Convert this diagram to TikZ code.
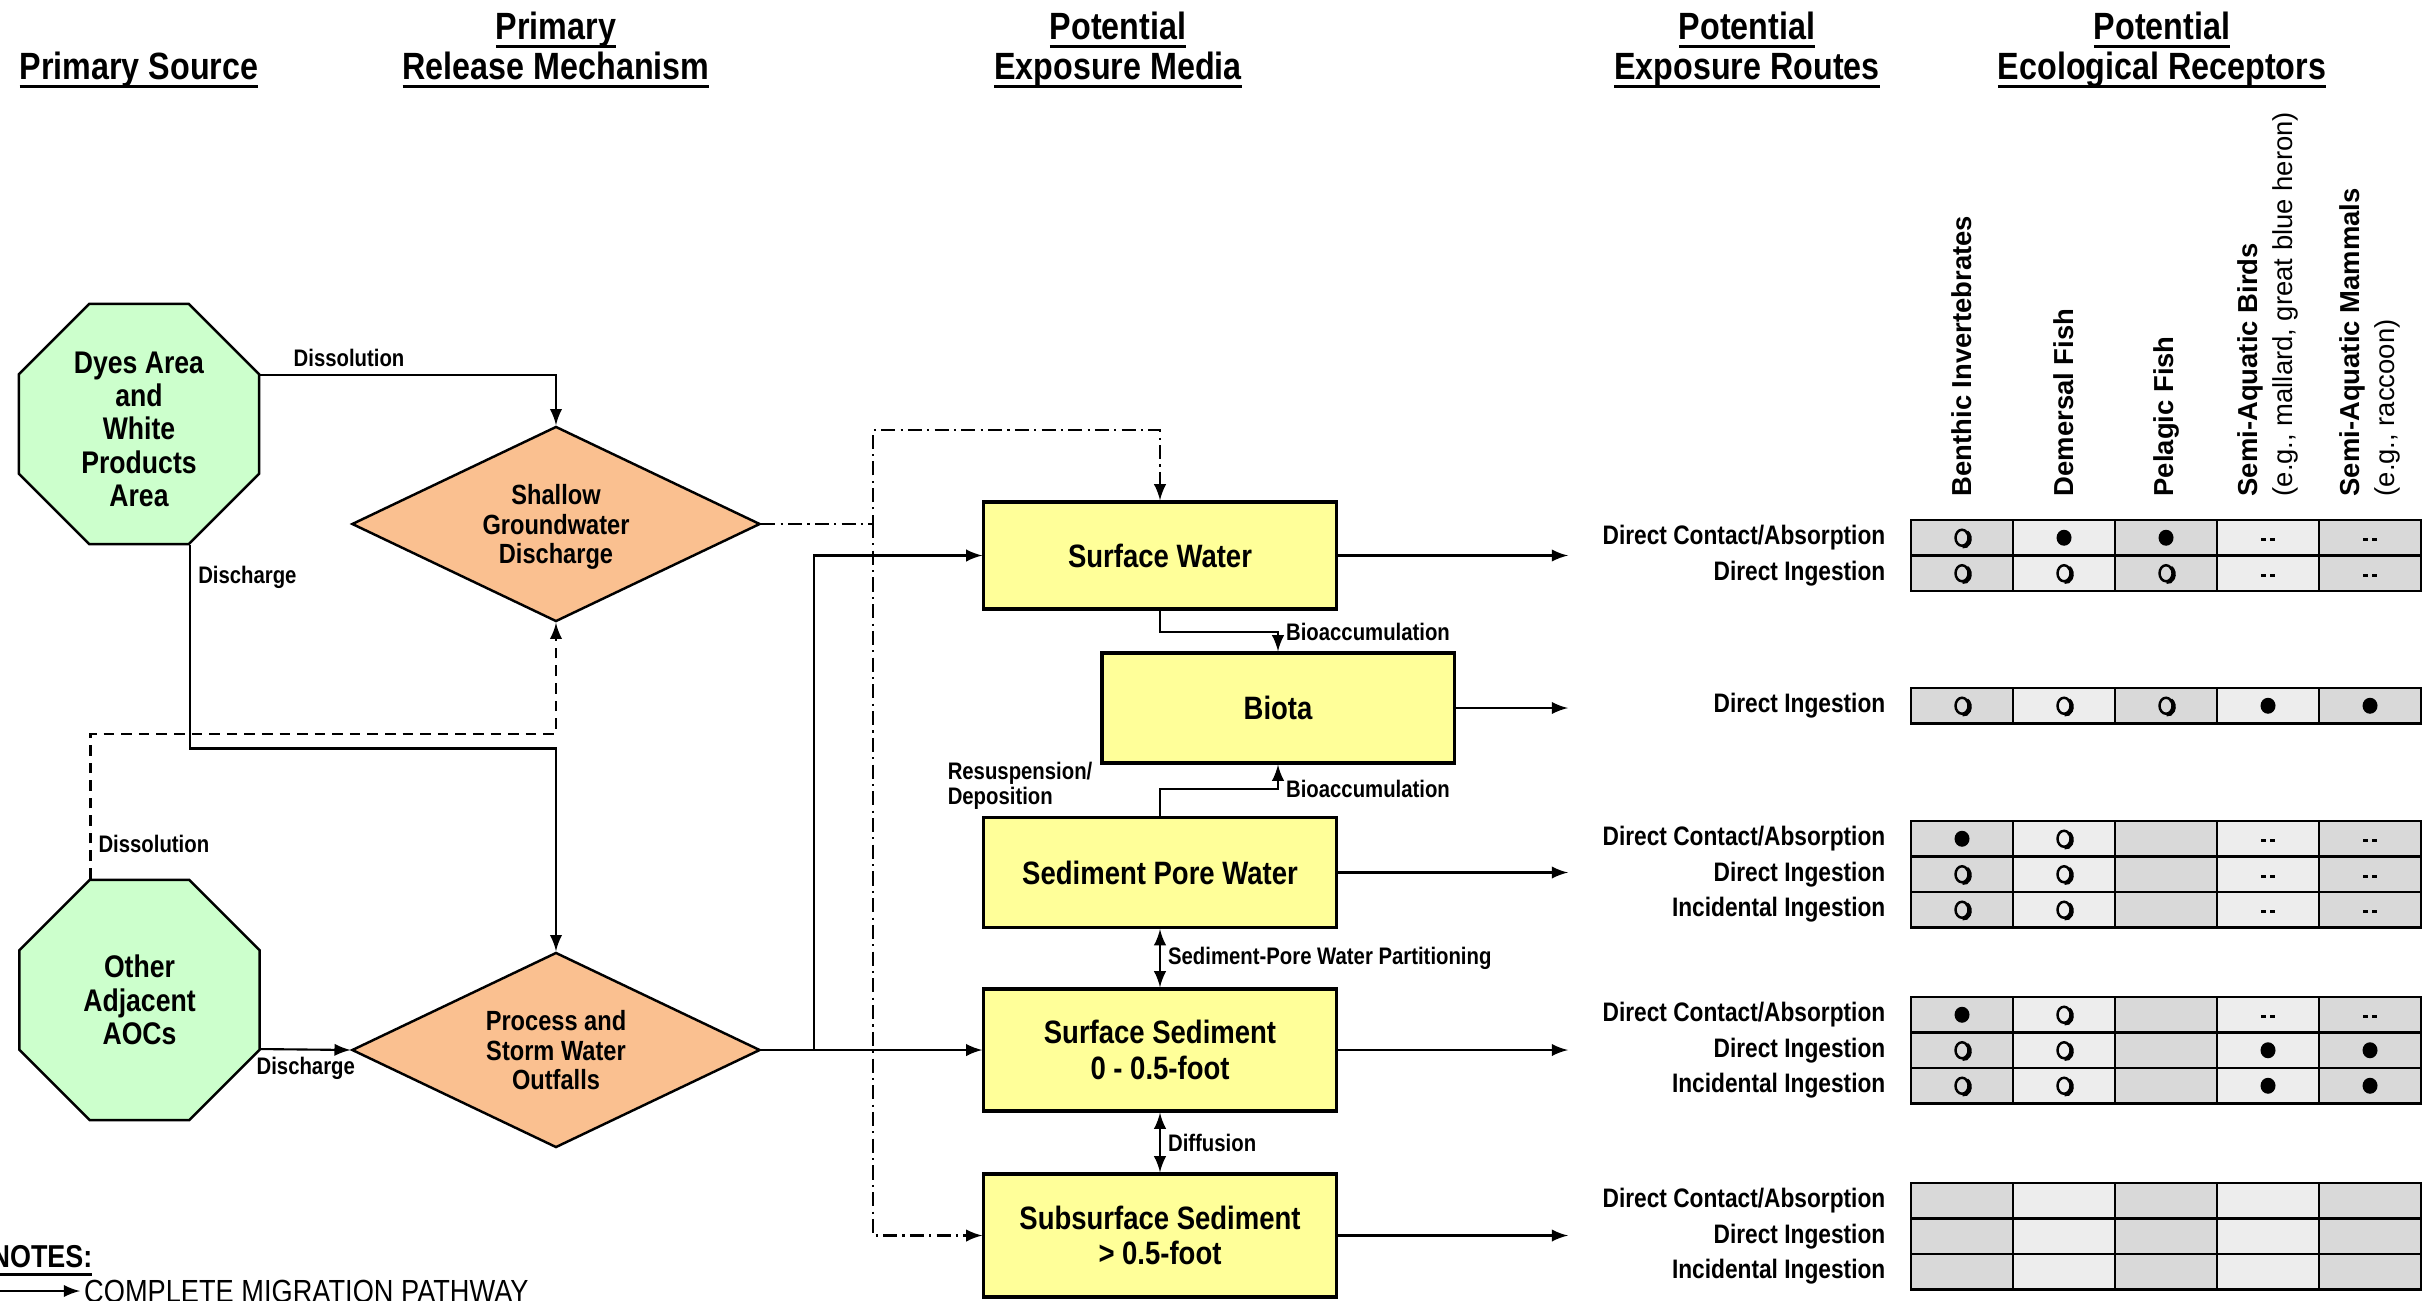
\documentclass[tikz, border = 0pt]{standalone}
\usepackage{fontspec}
\setmainfont{Liberation Sans}
\newfontfamily\narrowsf{Liberation Sans}[FakeStretch = 0.85]
\usetikzlibrary{shapes.geometric}

\definecolor{srcGreen}{HTML}{CCFFCC}
\definecolor{relOrange}{HTML}{FAC090}
\definecolor{mediaYellow}{HTML}{FFFF99}
\definecolor{cellDark}{HTML}{D9D9D9}
\definecolor{cellLight}{HTML}{EDEDED}

% thick underline for the headings
\newcommand\hdrline[1]{\setbox0\hbox{#1\vphantom{y}}%
  \rlap{\smash{\vrule width \wd0 height -1.6pt depth 2.5pt}}\box0}

% marks in the receptor table
\newcommand\mkF[1]{\fill (#1) ellipse (7.5 and 8);}
\newcommand\mkO[1]{
  \draw[line width = 0.7pt] (#1) ellipse (6.5 and 8);
  \draw[line width = 1pt] (#1) ++(4.75, -5.9)
    arc[start angle = -60, end angle = 100, x radius = 6.5, y radius = 8];}
\newcommand\mkD[1]{
  \draw[line width = 0.9pt] (#1) ++(-7, 2) -- ++(5, 0) ++(4, 0) -- ++(5, 0);}
\newcommand\mkE[1]{}

\tikzset{
  source/.style = {regular polygon, regular polygon sides = 8, draw, fill = srcGreen,
    minimum size = 2.6cm, inner sep = 0pt, align = center, line width = 0.7pt,
    text depth = 0pt, font = \narrowsf\bfseries\fontsize{8.9}{9.5}\selectfont},
  release/.style = {diamond, aspect = 2, draw, fill = relOrange, minimum width = 4.08cm,
    minimum height = 1.95cm, inner sep = 0pt, align = center, line width = 0.7pt,
    text depth = 0pt, font = \narrowsf\bfseries\fontsize{7.9}{8.4}\selectfont},
  media/.style = {rectangle, draw, fill = mediaYellow, minimum width = 3.52cm,
    minimum height = 1.1cm, align = center, line width = 0.9pt,
    font = \narrowsf\bfseries\fontsize{9.2}{10}\selectfont},
  header/.style = {anchor = south, align = center, inner sep = 0pt,
    font = \narrowsf\bfseries\fontsize{10.8}{11.4}\selectfont},
  note/.style = {font = \narrowsf\bfseries\fontsize{6.8}{7.2}\selectfont, inner sep = 2pt},
  exposure/.style = {anchor = east, inner sep = 0pt,
    font = \narrowsf\bfseries\fontsize{7.6}{8}\selectfont},
  receptor/.style = {rotate = 90, anchor = west, align = left, inner sep = 0pt,
    font = \bfseries\fontsize{7.8}{10}\selectfont},
  cell/.style = {draw, line width = 0.75pt, minimum width = 1.02cm,
    minimum height = 0.355cm, inner sep = 0pt},
  route/.style = {-latex, line width = 0.6pt},
  inferred/.style = {route, dash pattern = on 3pt off 2pt},
  minor/.style = {route, dash pattern = on 4pt off 1.5pt on 0.6pt off 1.5pt}
}

\begin{document}
\begin{tikzpicture}[x = 0.01cm, y = -0.01cm]
  \useasboundingbox (0, 0) rectangle (2422, 1300);

  % column headings
  \node[header] (hSource) at (139, 88) {\hdrline{Primary Source}};
  \node[header] (hRelease) at (556, 88) {\hdrline{Primary}\\\hdrline{Release Mechanism}};
  \node[header] (hMedia) at (1118, 88) {\hdrline{Potential}\\\hdrline{Exposure Media}};
  \node[header] (hRoutes) at (1747, 88) {\hdrline{Potential}\\\hdrline{Exposure Routes}};
  \node[header] (hReceptors) at (2162, 88) {\hdrline{Potential}\\\hdrline{Ecological Receptors}};

  % sources and release mechanisms
  \node[source] (dyes) at (139, 424) {\rule{0pt}{9pt}Dyes Area\\and\\White\\Products\\Area};
  \node[source] (other) at (139.5, 1000) {Other\\Adjacent\\AOCs};
  \node[release] (shallow) at (556, 524) {Shallow\\Groundwater\\Discharge};
  \node[release] (outfall) at (556, 1050) {Process and\\Storm Water\\Outfalls};

  % exposure media
  \node[media, minimum height = 1.07cm] (water) at (1160, 555.5) {Surface Water};
  \node[media] (biota) at (1278, 708) {Biota};
  \node[media] (pore) at (1160, 872.5) {Sediment Pore Water};
  \node[media, minimum height = 1.22cm] (surfSed) at (1160, 1050) {Surface Sediment\\0 - 0.5-foot};
  \node[media, minimum height = 1.23cm] (subSed) at (1160, 1235.5) {Subsurface Sediment\\> 0.5-foot};

  \coordinate (split) at (873, 430);
  \coordinate (tee) at (814, 1050);
  \coordinate (outX) at (1568, 0);

  % release pathways
  \draw[route] (dyes.22.5) -| (shallow.north)
    node[note, pos = 0.15, above] (lDiss1) {Dissolution};
  \draw[route] (dyes.-67.5) -- node[note, pos = 0.16, right] (lDisch1) {Discharge}
    ++(0, 204) -| (outfall.north);
  \draw[inferred] (other.112.5) -- node[note, pos = 0.24, right] (lDiss2) {Dissolution}
    ++(0, -145) -| (shallow.south);
  \draw[route] (other.-22.5) -- (outfall.west)
    node[note, midway, below] (lDisch2) {Discharge};

  \draw[minor] (shallow.east) -| (split) -| (water.north);
  \draw[minor] (shallow.east -| split) |- (subSed.west);
  \draw[route] (outfall.east) -- (surfSed.west);
  \draw[route] (tee) |- (water.west);

  % among the media
  \draw[route] (water.south) -- ++(0, 21) -| (biota.north)
    node[note, pos = 0.5, right] (lBio1) {Bioaccumulation};
  \draw[route] (pore.north) -- ++(0, -27) -| (biota.south)
    node[note, pos = 0.5, right] (lBio2) {Bioaccumulation};
  \node[note, anchor = west, align = left] (lResusp) at (940, 786) {Resuspension/\\Deposition};
  \draw[route, latex-latex] (pore.south) -- (surfSed.north)
    node[note, midway, right] (lPart) {Sediment-Pore Water Partitioning};
  \draw[route, latex-latex] (surfSed.south) -- (subSed.north)
    node[note, midway, right] (lDiff) {Diffusion};

  \foreach \m in {water, biota, pore, surfSed, subSed}
    \draw[route] (\m.east) -- (\m.east -| outX);

  % receptors
  \node[receptor] (rBenthic) at (1962, 497) {Benthic Invertebrates};
  \node[receptor] (rDemersal) at (2064, 497) {Demersal Fish};
  \node[receptor] (rPelagic) at (2166, 497) {Pelagic Fish};
  \node[receptor] (rBirds) at (2268, 497) {Semi-Aquatic Birds\\\mdseries(e.g., mallard, great blue heron)};
  \node[receptor] (rMammals) at (2370, 497) {Semi-Aquatic Mammals\\\mdseries(e.g., raccoon)};

  \foreach \yc/\what/\sA/\sB/\sC/\sD/\sE [count = \r] in {
    537.75/{Direct Contact/Absorption}/O/F/F/D/D,
    573.25/{Direct Ingestion}/O/O/O/D/D,
    705.75/{Direct Ingestion}/O/O/O/F/F,
    838.75/{Direct Contact/Absorption}/F/O/E/D/D,
    874.25/{Direct Ingestion}/O/O/E/D/D,
    909.75/{Incidental Ingestion}/O/O/E/D/D,
    1014.75/{Direct Contact/Absorption}/F/O/E/D/D,
    1050.25/{Direct Ingestion}/O/O/E/F/F,
    1085.75/{Incidental Ingestion}/O/O/E/F/F,
    1200.75/{Direct Contact/Absorption}/E/E/E/E/E,
    1236.25/{Direct Ingestion}/E/E/E/E/E,
    1271.75/{Incidental Ingestion}/E/E/E/E/E} {
    \node[exposure] (route\r) at (1886, \yc) {\what};
    \foreach \s/\tone [count = \k] in {\sA/cellDark, \sB/cellLight, \sC/cellDark, \sD/cellLight, \sE/cellDark} {
      \node[cell, fill = \tone] (cell\r-\k) at (1860 + 102 * \k, \yc) {};
      \csname mk\s\endcsname{cell\r-\k}
    }
  }

  % legend
  \node[font = \narrowsf\bfseries\fontsize{9}{10}\selectfont, anchor = base east, inner sep = 0pt]
    (notes) at (93, 1267) {\hdrline{NOTES:}};
  \coordinate (legTail) at (-5, 1291);
  \node[font = \narrowsf\fontsize{9.1}{10}\selectfont, anchor = west, inner sep = 1pt]
    (legend) at (80, 1291) {COMPLETE MIGRATION PATHWAY};
  \draw[route] (legTail) -- (legend.west);
\end{tikzpicture}
\end{document}
